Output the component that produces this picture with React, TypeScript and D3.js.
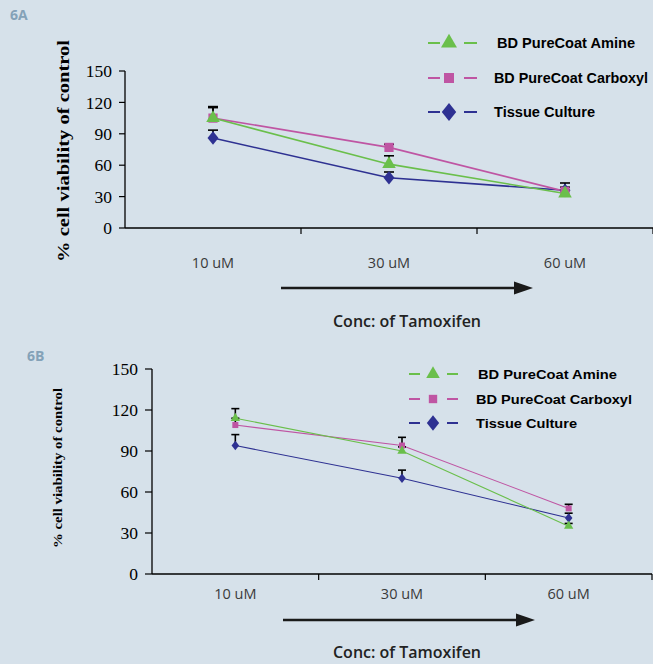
import React from "react";
import * as d3 from "d3";

const categories = ["10 uM", "30 uM", "60 uM"];
const yTicks = [0, 30, 60, 90, 120, 150];
const seriesNames = ["BD PureCoat Amine", "BD PureCoat Carboxyl", "Tissue Culture"];

// panel 6A
const amineA = [105, 61, 33];
const carboxylA = [105, 77, 35];
const tissueA = [86, 48, 36];
const amineErrA = [11, 8, 3];
const carboxylErrA = [10, 3, 8];
const tissueErrA = [7.5, 5.5, 3];

// panel 6B
const amineB = [114, 90, 35];
const carboxylB = [109, 94, 48];
const tissueB = [94, 70, 41];
const amineErrB = [7, 3, 2];
const carboxylErrB = [5, 6, 3];
const tissueErrB = [8, 6, 3.5];

const colors = ["#6abf4b", "#bf55a3", "#2e3192"];
const bg = "#d6e1ea";

const diamond = {
  draw(ctx: any, size: number) {
    const h = Math.sqrt(size / 1.6);
    const w = h * 0.8;
    ctx.moveTo(0, -h);
    ctx.lineTo(w, 0);
    ctx.lineTo(0, h);
    ctx.lineTo(-w, 0);
    ctx.closePath();
  },
};
const symbolTypes = [d3.symbolTriangle, d3.symbolSquare, diamond];

function Panel({ cfg, values, errs }: any) {
  const x = d3.scaleBand().domain(categories).range([cfg.x0, cfg.x1]).padding(0);
  const y = d3.scaleLinear().domain([0, 150]).range([cfg.yBottom, cfg.yTop]);
  const cx = (c: string) => (x(c) as number) + x.bandwidth() / 2;
  const line = d3
    .line<number>()
    .x((d, i) => cx(categories[i]))
    .y((d) => y(d));
  const order = [2, 1, 0];
  const sym = (t: number, size: number) => d3.symbol().type(symbolTypes[t] as any).size(size)() as string;

  return (
    <g>
      <text x={cfg.labelX} y={cfg.labelY} fontFamily="Open Sans, sans-serif" fontWeight={700} fontSize={14} fill="#84a2b8">
        {cfg.label}
      </text>
      {/* y axis */}
      <line x1={cfg.x0} x2={cfg.x0} y1={cfg.yTop} y2={cfg.yBottom} stroke="#000" strokeWidth={1.3} />
      {yTicks.map((t) => (
        <g key={t}>
          <line x1={cfg.x0 - cfg.tick} x2={cfg.x0} y1={y(t)} y2={y(t)} stroke="#000" strokeWidth={1.2} />
          <text x={cfg.x0 - cfg.tick - 7} y={y(t)} dy="0.35em" textAnchor="end" fontFamily="Liberation Serif, serif" fontSize={17.5} fill="#000">
            {t}
          </text>
        </g>
      ))}
      <text
        transform={`translate(${cfg.yTitleX},${cfg.yTitleY}) rotate(-90)`}
        textAnchor="middle"
        fontFamily="Liberation Serif, serif"
        fontWeight={700}
        fontSize={cfg.yTitleSize}
        textLength={cfg.yTitleLen}
        lengthAdjust="spacingAndGlyphs"
      >
        % cell viability of control
      </text>
      {/* x axis */}
      <line x1={cfg.x0} x2={cfg.x1} y1={cfg.yBottom} y2={cfg.yBottom} stroke="#000" strokeWidth={1.3} />
      {categories.map((c) => (
        <g key={c}>
          <line x1={(x(c) as number) + x.bandwidth()} x2={(x(c) as number) + x.bandwidth()} y1={cfg.yBottom} y2={cfg.yBottom + 6} stroke="#000" strokeWidth={1.2} />
          <text x={cx(c)} y={cfg.xLabelY} textAnchor="middle" fontFamily="Open Sans, sans-serif" fontSize={14.5} fill="#3a3a3a">
            {c}
          </text>
        </g>
      ))}
      {/* lines */}
      {order.map((s) => (
        <path key={s} d={line(values[s]) as string} fill="none" stroke={colors[s]} strokeWidth={cfg.lineW} />
      ))}
      {/* error bars */}
      {order.map((s) =>
        values[s].map((v: number, i: number) => {
          const px = cx(categories[i]);
          const top = y(v + errs[s][i]);
          return (
            <g key={`${s}-${i}`} stroke="#000" strokeWidth={1.6}>
              <line x1={px} x2={px} y1={y(v)} y2={top} />
              <line x1={px - cfg.cap} x2={px + cfg.cap} y1={top} y2={top} />
            </g>
          );
        })
      )}
      {/* markers */}
      {order.map((s) =>
        values[s].map((v: number, i: number) => (
          <path key={`m${s}-${i}`} d={sym(s, cfg.markerSize[s])} transform={`translate(${cx(categories[i])},${y(v)})`} fill={colors[s]} />
        ))
      )}
      {/* legend */}
      {seriesNames.map((n, s) => {
        const ly = cfg.legendY[s];
        const L = cfg.legend;
        return (
          <g key={n}>
            <line x1={L.d1[0]} x2={L.d1[1]} y1={ly} y2={ly} stroke={colors[s]} strokeWidth={2} />
            <line x1={L.d2[0]} x2={L.d2[1]} y1={ly} y2={ly} stroke={colors[s]} strokeWidth={2} />
            <path d={sym(s, L.size[s])} transform={`translate(${L.mx},${ly})`} fill={colors[s]} />
            <text
              x={L.tx[s]}
              y={ly}
              dy="0.35em"
              fontFamily="Liberation Sans, Arial, sans-serif"
              fontWeight={700}
              fontSize={L.fs}
              textLength={L.tl[s]}
              lengthAdjust="spacingAndGlyphs"
              fill="#000"
            >
              {n}
            </text>
          </g>
        );
      })}
      {/* arrow + title */}
      <line x1={cfg.arrow[0]} x2={cfg.arrow[1] - 14} y1={cfg.arrowY} y2={cfg.arrowY} stroke="#1a1a1a" strokeWidth={2.5} />
      <path
        d={`M${cfg.arrow[1]},${cfg.arrowY} L${cfg.arrow[1] - 19},${cfg.arrowY - 6.5} L${cfg.arrow[1] - 19},${cfg.arrowY + 6.5} Z`}
        fill="#1a1a1a"
      />
      <text x={407} y={cfg.titleY} textAnchor="middle" fontFamily="Open Sans, sans-serif" fontWeight={600} fontSize={16} fill="#222">
        Conc: of Tamoxifen
      </text>
    </g>
  );
}

const cfgA = {
  label: "6A", labelX: 10, labelY: 20,
  x0: 125, x1: 653, yTop: 71, yBottom: 228, tick: 6,
  yTitleX: 69, yTitleY: 151, yTitleSize: 17, yTitleLen: 222,
  xLabelY: 268, lineW: 1.6, cap: 5,
  markerSize: [80, 85, 75],
  arrow: [281, 533], arrowY: 288, titleY: 327,
  legendY: [43, 78, 112],
  legend: { d1: [428, 440], d2: [464, 477], mx: 449, tx: [497, 494, 494], tl: [138, 154, 101], fs: 14, size: [110, 100, 130] },
};

const cfgB = {
  label: "6B", labelX: 27, labelY: 361,
  x0: 152, x1: 652, yTop: 369, yBottom: 574, tick: 7,
  yTitleX: 62, yTitleY: 468, yTitleSize: 13, yTitleLen: 160,
  xLabelY: 599, lineW: 1.1, cap: 4,
  markerSize: [38, 36, 36],
  arrow: [283, 535], arrowY: 620, titleY: 658,
  legendY: [374, 399, 423],
  legend: { d1: [409, 420], d2: [447, 458], mx: 433, tx: [478, 476, 476], tl: [139, 156, 101], fs: 13, size: [80, 70, 95] },
};

export default function App() {
  return (
    <div style={{ position: "absolute", left: 0, top: 0 }}>
      <svg width={653} height={664} style={{ display: "block" }}>
        <rect width={653} height={664} fill={bg} />
        <Panel cfg={cfgA} values={[amineA, carboxylA, tissueA]} errs={[amineErrA, carboxylErrA, tissueErrA]} />
        <Panel cfg={cfgB} values={[amineB, carboxylB, tissueB]} errs={[amineErrB, carboxylErrB, tissueErrB]} />
      </svg>
    </div>
  );
}
